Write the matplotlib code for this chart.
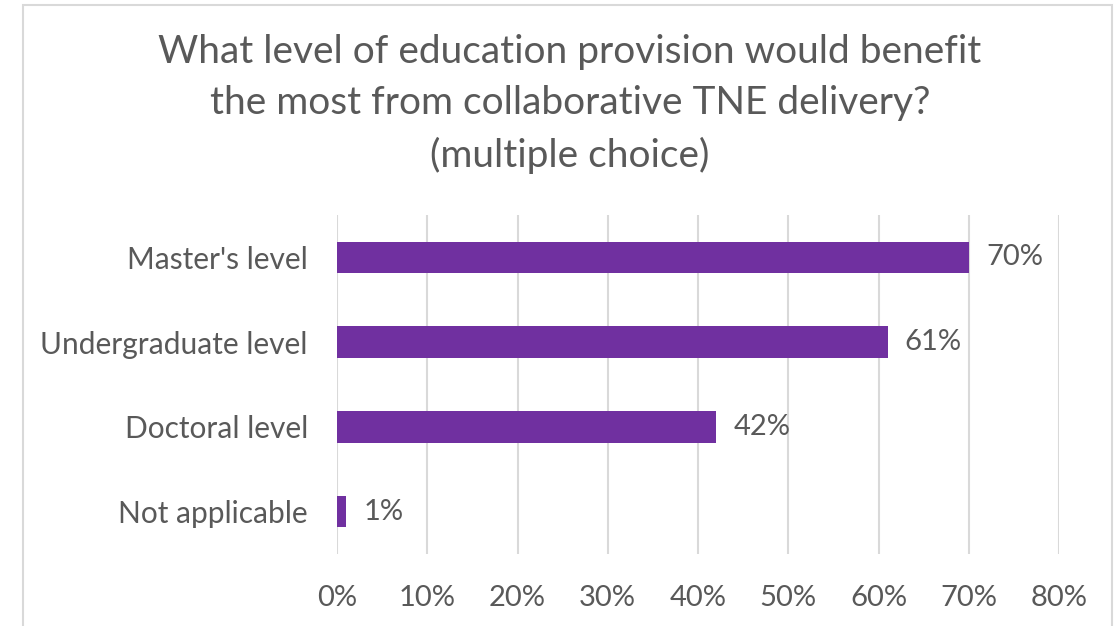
import matplotlib.pyplot as plt
from matplotlib.patches import Rectangle

categories = ["Master's level", "Undergraduate level", "Doctoral level", "Not applicable"]
values = [70, 61, 42, 1]
ticks = [0, 10, 20, 30, 40, 50, 60, 70, 80]

GREY = "#595959"
PURPLE = "#7030A0"

plt.rcParams["font.family"] = ["Lato", "DejaVu Sans"]

W, H = 1114, 626
fig = plt.figure(figsize=(W / 100, H / 100), dpi=100)

# chart frame
fig.patches.append(Rectangle((23 / W, -0.05), (1112 - 23) / W, 1.05 - 5 / H,
                             transform=fig.transFigure, fill=False,
                             edgecolor="#d9d9d9", linewidth=1.5))

ax = fig.add_axes([337 / W, 1 - 554 / H, (1059 - 337) / W, (554 - 215) / H])

y = list(range(len(categories)))
ax.barh(y, values, height=0.37, color=PURPLE)

for yi, v in zip(y, values):
    ax.text(v + 1.9, yi, f"{v}%", va="center", ha="left", fontsize=21, color=GREY)

ax.set_xlim(0, 80)
ax.set_ylim(3.5, -0.5)
ax.set_xticks(ticks)
ax.set_xticklabels([f"{t}%" for t in ticks], fontsize=21, color=GREY)
ax.set_yticks(y)
ax.set_yticklabels(categories, fontsize=21.5, color=GREY)
ax.tick_params(axis="both", length=0)
ax.tick_params(axis="x", pad=22)
ax.tick_params(axis="y", pad=21)

ax.grid(axis="x", color="#d9d9d9", linewidth=1.5)
ax.set_axisbelow(True)
for s in ax.spines.values():
    s.set_visible(False)

fig.text(570 / W, 1 - 104 / H,
         "What level of education provision would benefit\nthe most from collaborative TNE delivery?\n(multiple choice)",
         ha="center", va="center", fontsize=28, color=GREY, linespacing=1.52)

fig.savefig("out.png", dpi=100)
